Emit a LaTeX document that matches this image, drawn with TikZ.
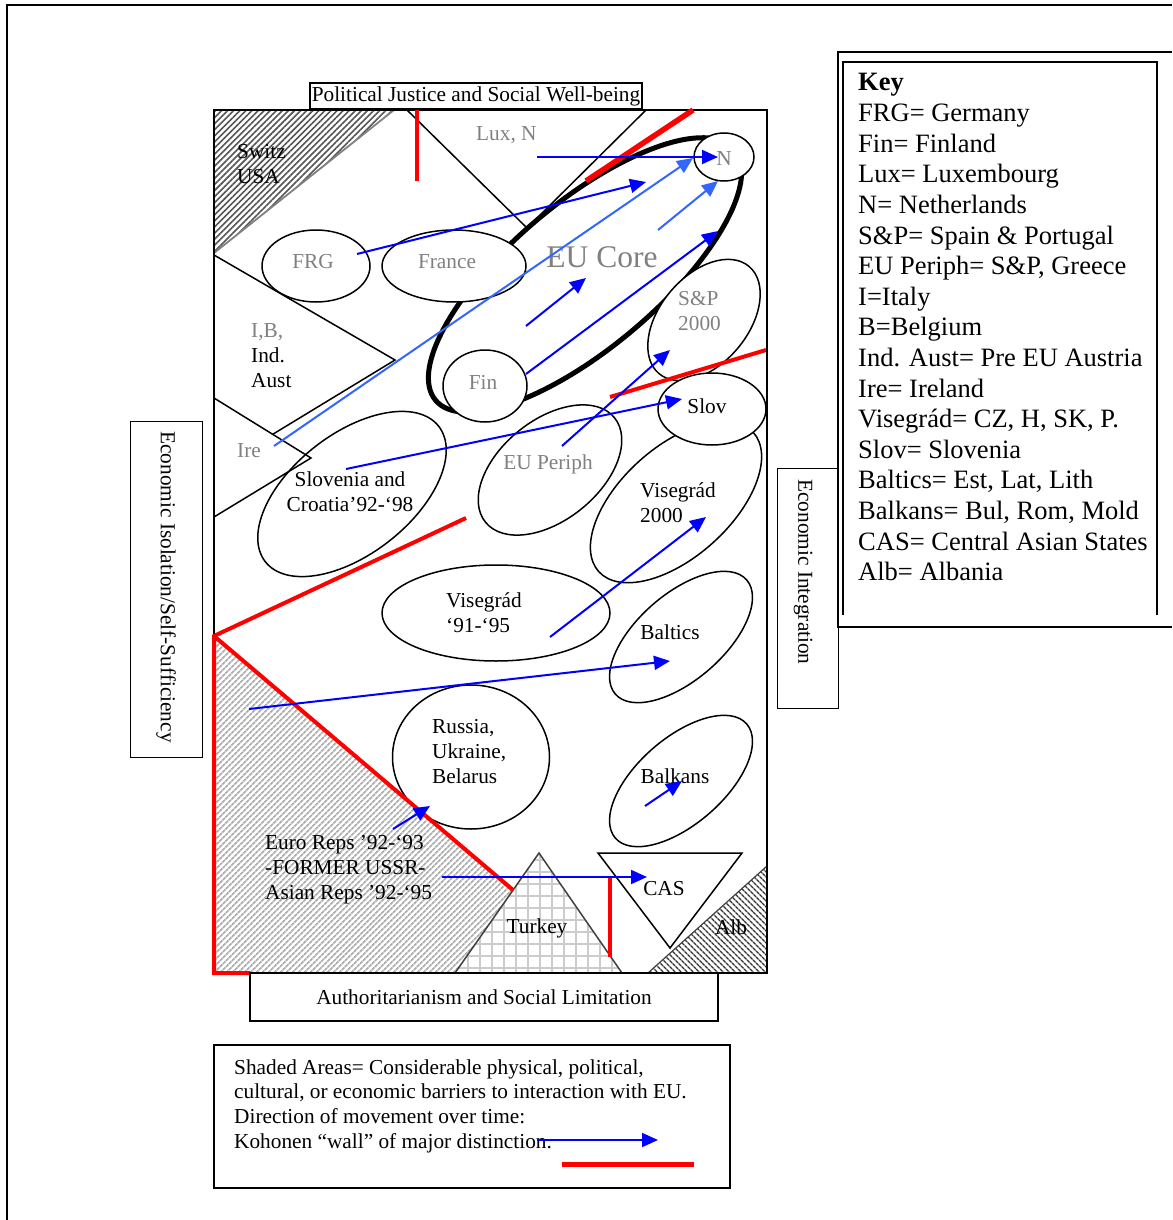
\documentclass[tikz,border=0pt]{standalone}
\usepackage{fontspec}
\setmainfont{Liberation Serif}
\usetikzlibrary{shapes.geometric,arrows.meta,patterns.meta}
\definecolor{lblue}{RGB}{51,102,255}
\definecolor{txtgray}{RGB}{128,128,128}
\definecolor{wallred}{RGB}{255,0,0}
\definecolor{hatchdark}{RGB}{85,85,85}
\definecolor{hatchlight}{RGB}{175,175,175}
\begin{document}
\begin{tikzpicture}[x=1pt,y=-1pt,
  reg/.style={draw, ellipse, line width=1.5pt, inner sep=0pt, fill=white},
  lbl/.style={inner sep=0pt, font=\fontsize{21.3}{25}\selectfont},
  glbl/.style={lbl, text=txtgray},
  keyl/.style={anchor=base west, inner sep=0pt, font=\fontsize{26.5}{30}\selectfont},
  arr/.style={line width=2pt, blue, -{Triangle[length=16pt,width=14pt]}},
  larr/.style={arr, lblue},
  wall/.style={wallred, line width=4pt},
  box/.style={draw, line width=1.5pt, fill=white, inner sep=0pt},
  shp/.style={draw, line width=1.5pt}]
\useasboundingbox (0,0) rectangle (1172,1220);
% page frame
\draw[line width=2pt] (7,1220) -- (7,5) -- (1172,5);

% shaded / background shapes
\fill[pattern={Lines[angle=45,distance=4.3pt,line width=1.6pt]}, pattern color=hatchdark] (214,110) -- (394,110) -- (214,253) -- cycle;
\draw[gray, line width=1.8pt] (214,253) -- (394,110);
\fill[pattern={Lines[angle=45,distance=4pt,line width=1.8pt]}, pattern color=hatchlight] (214,636) -- (513,890) -- (455,973) -- (214,973) -- cycle;
% Lux triangle
\draw[shp] (407,110) -- (527,228) -- (646,110);
% I,B triangle and Ire triangle
\draw[shp] (214,255) -- (395,360) -- (214,470);
\draw[shp, fill=white] (214,398) -- (311,458) -- (214,517);
% Turkey
\fill[white] (455,973) -- (539,853) -- (622,973) -- cycle;
\fill[pattern={Hatch[angle=0,distance=12pt,line width=1.6pt]}, pattern color=black!20] (455,973) -- (539,853) -- (622,973) -- cycle;
\draw[black!75, line width=1.5pt] (455,973) -- (539,853) -- (622,973);
% Alb
\fill[pattern={Lines[angle=-45,distance=4pt,line width=1.5pt]}, pattern color=black!80] (767,866) -- (767,973) -- (648,973) -- cycle;
\draw[black!75, line width=1.2pt] (767,866) -- (648,973);
% CAS
\draw[shp, fill=white] (598,853) -- (742,853) -- (670,948) -- cycle;

% EU core
\node[draw, ellipse, inner sep=0pt, line width=5pt, minimum width=390pt, minimum height=146pt, rotate=40] (core) at (585,275) {};
% regions
\node[reg, minimum width=108pt, minimum height=72pt] (frg) at (316,266) {};
\node[reg, minimum width=144pt, minimum height=72pt] (france) at (454,266) {};
\node[reg, minimum width=60pt, minimum height=48pt] (n) at (724,157) {};
\node[reg, minimum width=84pt, minimum height=72pt] (fin) at (485,386) {};
\node[reg, minimum width=140pt, minimum height=88pt, rotate=50] (sp) at (704,320) {};
\node[reg, minimum width=166pt, minimum height=100pt, rotate=39] (periph) at (550,470) {};
\node[reg, fill=none, minimum width=220pt, minimum height=120pt, rotate=38] (slocro) at (352,494) {};
\node[reg, minimum width=208pt, minimum height=110pt, rotate=42] (vis2000) at (676,502) {};
\draw[wall] (610,397) -- (766,350);
\node[reg, minimum width=108pt, minimum height=72pt] (slov) at (712,409) {};
\node[reg, minimum width=228pt, minimum height=96pt] (vis91) at (496,613) {};
\node[reg, minimum width=174pt, minimum height=86pt, rotate=41] (baltics) at (681,637) {};
\node[reg, minimum width=174pt, minimum height=86pt, rotate=41] (balkans) at (681,781) {};
\node[reg, fill=none, minimum width=157pt, minimum height=144pt] (russia) at (471,757) {};

% main frame
\draw[line width=1.8pt] (214,110) rectangle (767,973);

% walls
\draw[wall] (417,110) -- (417,181);
\draw[wallred, line width=5.5pt] (586,181) -- (693,110);
\draw[wall] (250,973) -- (214,973) -- (214,636) -- (466,518);
\draw[wall] (214,636) -- (513,890);
\draw[wall] (610,878) -- (610,957);

% boxes
\node[box, minimum width=332pt, minimum height=26pt, lbl] (pj) at (476,96) {Political Justice and Social Well-being};
\node[box, minimum width=468pt, minimum height=48pt, lbl] (auth) at (484,997) {Authoritarianism and Social Limitation};
\node[box, minimum width=72pt, minimum height=336pt] (isobox) at (166.5,589.5) {};
\node[lbl, rotate=-90] (isotxt) at (166,587) {Economic Isolation/Self-Sufficiency};
\node[box, minimum width=61pt, minimum height=240pt] (intbox) at (808,588.5) {};
\node[lbl, rotate=-90] (inttxt) at (803,572) {Economic Integration};

% labels
\node[lbl, anchor=west, align=left] (switz) at (237,164) {Switz\\USA};
\node[glbl, anchor=west] (lux) at (476,135) {Lux, N};
\node[glbl] (frgt) at (313,262) {FRG};
\node[glbl] (francet) at (447,262) {France};
\node[glbl, font=\fontsize{31.5}{36}\selectfont] (coret) at (602,257) {EU Core};
\node[glbl] (nt) at (724,159) {N};
\node[glbl, anchor=west, align=left] (spt) at (678,311) {S\&P\\2000};
\node[lbl, anchor=west, align=left] (ibt) at (251,356) {\textcolor{txtgray}{I,B,}\\Ind.\\Aust};
\node[glbl] (fint) at (483,382) {Fin};
\node[lbl] (slovt) at (707,406) {Slov};
\node[glbl] (iret) at (249,451) {Ire};
\node[lbl, align=center] (slocrot) at (350,492) {Slovenia and\\Croatia’92-‘98};
\node[glbl] (periapht) at (548,464) {EU Periph};
\node[lbl, anchor=west, align=left] (vis2000t) at (640,503) {Visegrád\\2000};
\node[lbl, anchor=west, align=left] (vis91t) at (446,613) {Visegrád\\‘91-‘95};
\node[lbl] (balticst) at (670,632) {Baltics};
\node[lbl, anchor=west, align=left] (russiat) at (432,752) {Russia,\\Ukraine,\\Belarus};
\node[lbl] (balkanst) at (675,776) {Balkans};
\node[lbl, anchor=west, align=left] (ussrt) at (265,870) {Euro Reps ’92-‘93\\-FORMER USSR-\\Asian Reps ’92-‘95};
\node[lbl] (turkeyt) at (537,928) {Turkey};
\node[lbl] (cast) at (664,889) {CAS};
\node[lbl] (albt) at (731,927) {Alb};

% arrows
\coordinate (a1s) at (537,157); \coordinate (a1e) at (718,157);
\coordinate (a2s) at (357,254); \coordinate (a2e) at (646,182);
\coordinate (a3s) at (274,446); \coordinate (a3e) at (693,158);
\coordinate (a4s) at (658,230); \coordinate (a4e) at (718,181);
\coordinate (a5s) at (526,326); \coordinate (a5e) at (586,278);
\coordinate (a6s) at (526,374); \coordinate (a6e) at (718,231);
\coordinate (a7s) at (562,446); \coordinate (a7e) at (670,350);
\coordinate (a8s) at (346,469); \coordinate (a8e) at (682,399);
\coordinate (a9s) at (550,637); \coordinate (a9e) at (706,517);
\coordinate (a10s) at (249,709); \coordinate (a10e) at (670,661);
\coordinate (a11s) at (393,829); \coordinate (a11e) at (430,806);
\coordinate (a12s) at (645,806); \coordinate (a12e) at (682,781);
\coordinate (a13s) at (442,877); \coordinate (a13e) at (647,877);
\draw[arr] (a1s) -- (a1e);
\draw[arr] (a2s) -- (a2e);
\draw[larr] (a3s) -- (a3e);
\draw[larr] (a4s) -- (a4e);
\draw[arr] (a5s) -- (a5e);
\draw[arr] (a6s) -- (a6e);
\draw[arr] (a7s) -- (a7e);
\draw[arr] (a8s) -- (a8e);
\draw[arr] (a9s) -- (a9e);
\draw[arr] (a10s) -- (a10e);
\draw[arr] (a11s) -- (a11e);
\draw[arr] (a12s) -- (a12e);
\draw[arr] (a13s) -- (a13e);

% key
\draw[line width=2pt] (1172,52) -- (838,52) -- (838,627) -- (1172,627);
\draw[line width=2pt] (843,615) -- (843,62) -- (1157,62) -- (1157,615);
\node[keyl, font=\fontsize{26.5}{30}\selectfont\bfseries] (k0) at (858,91) {Key};
\node[keyl] (k1) at (858,121.6) {FRG= Germany};
\node[keyl] (k2) at (858,152.2) {Fin= Finland};
\node[keyl] (k3) at (858,182.8) {Lux= Luxembourg};
\node[keyl] (k4) at (858,213.4) {N= Netherlands};
\node[keyl] (k5) at (858,244.0) {S\&P= Spain \& Portugal};
\node[keyl] (k6) at (858,274.6) {EU Periph= S\&P, Greece};
\node[keyl] (k7) at (858,305.2) {I=Italy};
\node[keyl] (k8) at (858,335.8) {B=Belgium};
\node[keyl] (k9) at (858,366.4) {Ind. Aust= Pre EU Austria};
\node[keyl] (k10) at (858,397.0) {Ire= Ireland};
\node[keyl] (k11) at (858,427.6) {Visegrád= CZ, H, SK, P.};
\node[keyl] (k12) at (858,458.2) {Slov= Slovenia};
\node[keyl] (k13) at (858,488.8) {Baltics= Est, Lat, Lith};
\node[keyl] (k14) at (858,519.4) {Balkans= Bul, Rom, Mold};
\node[keyl] (k15) at (858,550.0) {CAS= Central Asian States};
\node[keyl] (k16) at (858,580.6) {Alb= Albania};

% legend
\node[box, minimum width=516pt, minimum height=143pt] (legbox) at (472,1116.5) {};
\node[lbl, anchor=west, align=left, font=\fontsize{21.3}{24.6}\selectfont] (legt) at (234,1106) {Shaded Areas= Considerable physical, political,\\cultural, or economic barriers to interaction with EU.\\Direction of movement over time:\\Kohonen “wall” of major distinction.};
\coordinate (lgas) at (537,1140); \coordinate (lgae) at (658,1140);
\coordinate (lgws) at (562,1164); \coordinate (lgwe) at (694,1164);
\draw[arr] (lgas) -- (lgae);
\draw[wallred, line width=5pt] (lgws) -- (lgwe);
\end{tikzpicture}
\end{document}
